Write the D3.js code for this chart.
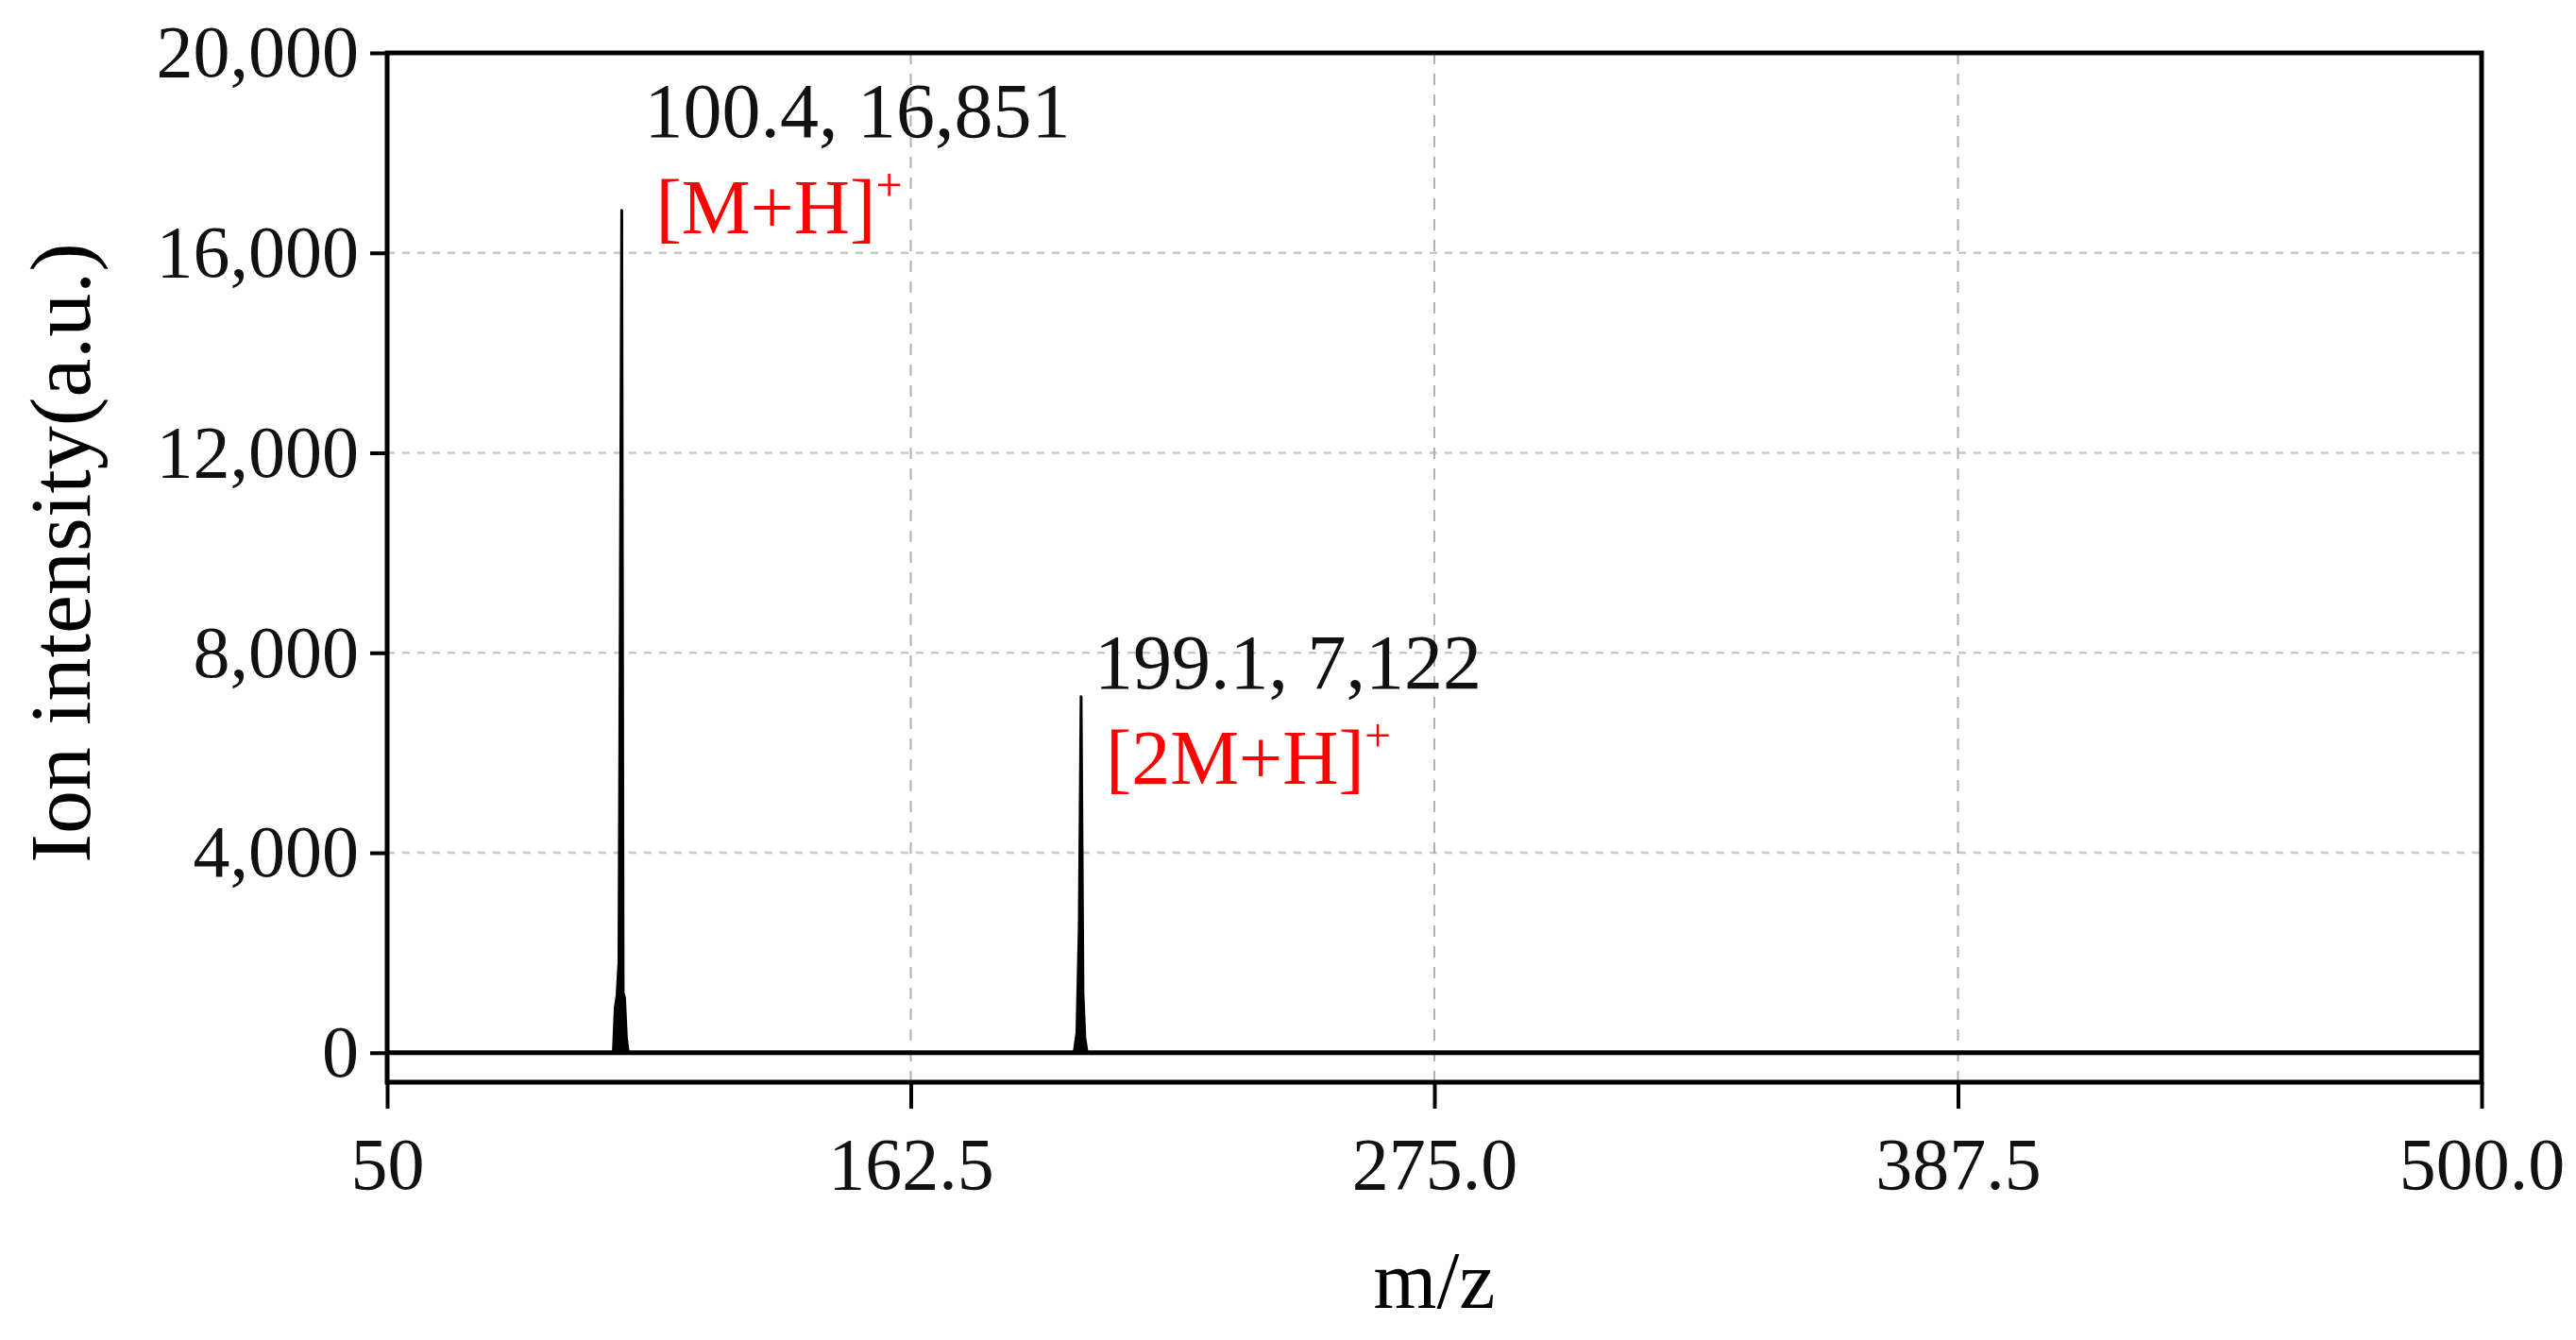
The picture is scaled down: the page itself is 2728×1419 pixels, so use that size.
<!DOCTYPE html>
<html>
<head>
<meta charset="utf-8">
<script src="https://cdn.jsdelivr.net/npm/d3@7"></script>
<style>
  body { margin: 0; background: #fff; }
  text { font-family: "Liberation Serif", "DejaVu Serif", serif; }
</style>
</head>
<body>
<div id="canvas"></div>
<script>
// spectrum data (m/z, intensity)
var mz =        [50, 98.6, 99.0, 99.4, 99.8, 100.1, 100.4, 100.7, 101.0, 101.4, 101.8, 197.6, 198.2, 198.7, 199.1, 199.5, 199.9, 200.4, 500];
var intensity = [0,  0,    900,  1150, 1800, 9000,  16851, 1200,  1100,  300,   0,     0,     400,   2500,  7122,  1200,  300,   0,     0];

var xTicks = [50, 162.5, 275.0, 387.5, 500.0];
var xTickLabels = ["50", "162.5", "275.0", "387.5", "500.0"];
var yTicks = [0, 4000, 8000, 12000, 16000, 20000];

var peakLabels = [
  { mz: 100.4, value: "100.4, 16,851", ion: "[M+H]", dx: 24, dyValue: -78, dyIon: 24 },
  { mz: 199.1, value: "199.1, 7,122", ion: "[2M+H]", dx: 14, dyValue: -9, dyIon: 92 }
];
var peakHeights = [16851, 7122];

var width = 2728, height = 1419;
var margin = { left: 410, right: 100, top: 56, bottom: 273 };

var svg = d3.select("#canvas").append("svg")
  .attr("width", width).attr("height", height);

var x = d3.scaleLinear().domain([50, 500]).range([margin.left, width - margin.right]);
var y = d3.scaleLinear().domain([-590, 20000]).range([height - margin.bottom, margin.top]);

// grid
svg.append("g").selectAll("line").data(yTicks.slice(1, -1)).enter().append("line")
  .attr("x1", x(50)).attr("x2", x(500)).attr("y1", d => y(d)).attr("y2", d => y(d))
  .attr("stroke", "#c8c8c8").attr("stroke-width", 2.5).attr("stroke-dasharray", "8,8");
svg.append("g").selectAll("line").data(xTicks.slice(1, -1)).enter().append("line")
  .attr("y1", y(20000)).attr("y2", y(-590)).attr("x1", d => x(d)).attr("x2", d => x(d))
  .attr("stroke", "#b0b0b0").attr("stroke-width", 2).attr("stroke-dasharray", "12,10");

// zero line
svg.append("line").attr("x1", x(50)).attr("x2", x(500)).attr("y1", y(0)).attr("y2", y(0))
  .attr("stroke", "#000").attr("stroke-width", 5);

// spectrum
var line = d3.line().x((d, i) => x(mz[i])).y(d => y(d));
svg.append("path").datum(intensity).attr("d", line)
  .attr("fill", "#000").attr("stroke", "#000").attr("stroke-width", 3).attr("stroke-linejoin", "round");

// axes
var fs = "78px";
var yAxis = svg.append("g").attr("transform", "translate(" + margin.left + ",0)")
  .call(d3.axisLeft(y).tickValues(yTicks).tickFormat(d3.format(",")).tickSize(18).tickPadding(12));
var xAxis = svg.append("g").attr("transform", "translate(0," + (height - margin.bottom) + ")")
  .call(d3.axisBottom(x).tickValues(xTicks).tickFormat((d, i) => xTickLabels[i]).tickSize(28).tickPadding(30));
[yAxis, xAxis].forEach(function (a) {
  a.select(".domain").remove();
  a.selectAll("line").attr("stroke", "#000").attr("stroke-width", 4);
  a.selectAll("text").style("font-size", fs).attr("fill", "#111")
    .style("font-family", "'Liberation Serif', serif");
});

// frame
svg.append("rect").attr("x", x(50)).attr("y", y(20000))
  .attr("width", x(500) - x(50)).attr("height", y(-590) - y(20000))
  .attr("fill", "none").attr("stroke", "#000").attr("stroke-width", 5);

// axis titles
svg.append("text").attr("x", (x(50) + x(500)) / 2).attr("y", 1385)
  .attr("text-anchor", "middle").style("font-size", "86px").text("m/z");
svg.append("text").attr("transform", "translate(95," + ((y(20000) + y(0)) / 2) + ") rotate(-90)")
  .attr("text-anchor", "middle").style("font-size", "92px").text("Ion intensity(a.u.)");

// peak labels
peakLabels.forEach(function (p, i) {
  var h = peakHeights[i];
  svg.append("text").attr("x", x(p.mz) + p.dx).attr("y", y(h) + p.dyValue)
    .style("font-size", "82px").attr("fill", "#111").text(p.value);
  var t = svg.append("text").attr("x", x(p.mz) + p.dx + 12).attr("y", y(h) + p.dyIon)
    .style("font-size", "82px").attr("fill", "#ff0000");
  t.append("tspan").text(p.ion);
  t.append("tspan").attr("dy", -34).style("font-size", "50px").text("+");
});
</script>
</body>
</html>
